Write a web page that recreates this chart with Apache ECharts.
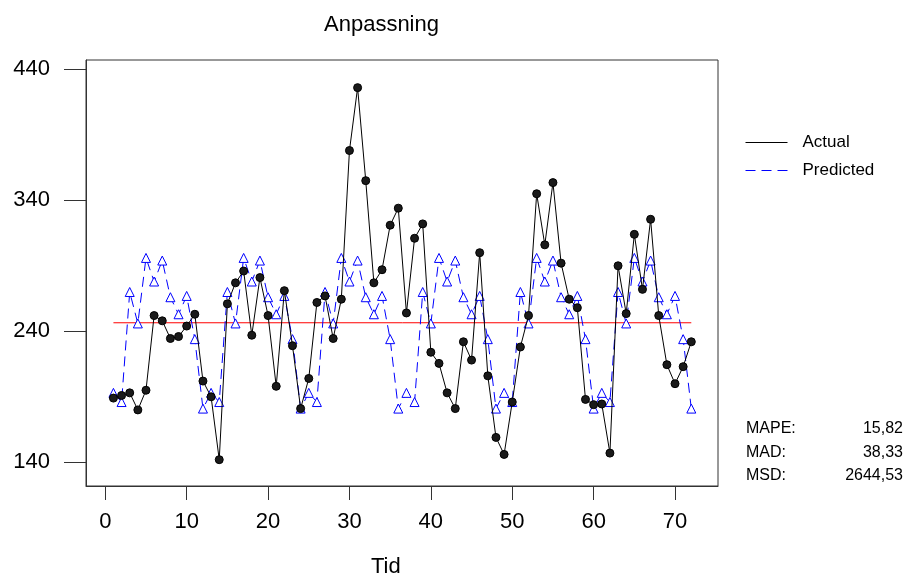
<!DOCTYPE html>
<html>
<head>
<meta charset="utf-8">
<script src="https://cdn.jsdelivr.net/npm/echarts@6/dist/echarts.min.js"></script>
<style>
html,body{margin:0;padding:0;background:#fff;}
#chart{width:907px;height:580px;}
</style>
</head>
<body>
<div id="chart"></div>
<script>
// ---- data ----
var timeIndex = [];
for (var i = 1; i <= 72; i++) timeIndex.push(i);

var actual = [
  189, 191, 193, 180, 195, 252, 248, 234.5, 236, 244, 253, 202,
  190, 142, 261, 277, 286, 237, 281, 252, 198, 271, 229, 181,
  204, 262, 267, 234.5, 264.5, 378, 426, 355, 277, 287, 321, 334,
  254, 311, 322, 224, 215.5, 193, 181, 232, 218, 300, 206, 159,
  146, 186, 228, 252, 345, 306, 353.5, 292, 264.5, 258, 188, 184,
  184.5, 147, 290, 253.5, 314, 272, 325.5, 252, 214.5, 200, 213, 232
];

var predicted = [
  193, 186, 270, 246, 296, 278, 294, 266, 253, 267, 234, 181,
  193, 186, 270, 246, 296, 278, 294, 266, 253, 267, 234, 181,
  193, 186, 270, 246, 296, 278, 294, 266, 253, 267, 234, 181,
  193, 186, 270, 246, 296, 278, 294, 266, 253, 267, 234, 181,
  193, 186, 270, 246, 296, 278, 294, 266, 253, 267, 234, 181,
  193, 186, 270, 246, 296, 278, 294, 266, 253, 267, 234, 181
];

var meanLevel = 246.5;
var meanRange = [1, 72];

var xTicks = [0, 10, 20, 30, 40, 50, 60, 70];
var yTicks = [140, 240, 340, 440];

var statLabels = ['MAPE:', 'MAD:', 'MSD:'];
var statValues = ['15,82', '38,33', '2644,53'];

var seriesNames = ['Actual', 'Predicted'];
var titleText = 'Anpassning';
var xAxisTitle = 'Tid';

// ---- build ----
function pairs(xs, ys) {
  return xs.map(function (x, i) { return [x, ys[i]]; });
}

var FONT = 'Liberation Sans, Arial, Helvetica, sans-serif';
var chart = echarts.init(document.getElementById('chart'), null, {renderer: 'canvas'});

var graphics = [];
statLabels.forEach(function (lab, i) {
  var y = 430 + i * 23.5;
  graphics.push({type: 'text', left: 746, top: y - 9,
    style: {text: lab, font: '16px ' + FONT, fill: '#000'}});
  graphics.push({type: 'text', right: 4, top: y - 9,
    style: {text: statValues[i], font: '16px ' + FONT, fill: '#000', textAlign: 'right'}});
});
graphics.push({type: 'text', left: 371, top: 556,
  style: {text: xAxisTitle, font: '22px ' + FONT, fill: '#000'}});

var option = {
  animation: false,
  backgroundColor: '#fff',
  textStyle: {fontFamily: FONT},
  title: {
    text: titleText, left: 319, top: 9,
    textStyle: {fontSize: 22, fontWeight: 'normal', color: '#000', fontFamily: FONT}
  },
  legend: {
    orient: 'vertical', left: 740, top: 129, itemWidth: 42, itemHeight: 14, itemGap: 11,
    data: seriesNames,
    itemStyle: {opacity: 0},
    lineStyle: {width: 1},
    textStyle: {fontSize: 17, color: '#000', fontFamily: FONT, padding: [0, 0, 0, 10]}
  },
  grid: {
    left: 86, right: 189, top: 60, bottom: 94,
    show: true, borderColor: '#333', borderWidth: 1, backgroundColor: '#fff'
  },
  xAxis: {
    type: 'value', min: -2.37, max: 75.28,
    splitLine: {show: false},
    axisLine: {show: true, onZero: false, lineStyle: {color: '#333'}},
    axisTick: {show: true, inside: false, length: 14, lineStyle: {color: '#333'}, customValues: xTicks},
    axisLabel: {fontSize: 22, color: '#000', margin: 25, fontFamily: FONT, customValues: xTicks}
  },
  yAxis: {
    type: 'value', min: 121.9, max: 447.1,
    splitLine: {show: false},
    axisLine: {show: true, onZero: false, lineStyle: {color: '#333'}},
    axisTick: {show: true, inside: false, length: 22, lineStyle: {color: '#333'}, customValues: yTicks},
    axisLabel: {fontSize: 22, color: '#000', margin: 36, fontFamily: FONT, customValues: yTicks}
  },
  graphic: graphics,
  series: [
    {
      name: 'Mean', type: 'line', silent: true, symbol: 'none',
      data: pairs(meanRange, [meanLevel, meanLevel]),
      lineStyle: {color: '#ff0000', width: 1}, z: 1
    },
    {
      name: 'Predicted', type: 'line', data: pairs(timeIndex, predicted),
      symbol: 'triangle', symbolSize: 9,
      itemStyle: {color: '#fff', borderColor: '#0000ff', borderWidth: 1},
      lineStyle: {color: '#0000ff', width: 1, type: [10, 6]},
      color: '#0000ff', z: 2
    },
    {
      name: 'Actual', type: 'line', data: pairs(timeIndex, actual),
      symbol: 'circle', symbolSize: 8,
      itemStyle: {color: '#1a1a1a', borderColor: '#000', borderWidth: 1},
      lineStyle: {color: '#000', width: 1},
      color: '#000', z: 3
    }
  ]
};
chart.setOption(option);
</script>
</body>
</html>
